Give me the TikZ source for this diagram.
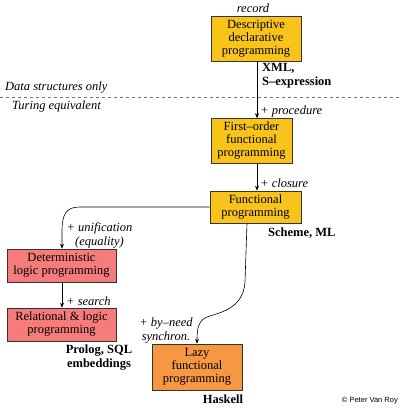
\documentclass[tikz,border=0pt]{standalone}
\usepackage{fontspec}
\setmainfont{Liberation Serif}[Ligatures=TeX]
\newfontfamily\timesfont{Liberation Serif}[Ligatures=TeX]
\newfontfamily\arialfont{Liberation Sans}
\usetikzlibrary{arrows.meta}
\definecolor{boxyellow}{RGB}{248,196,28}
\definecolor{boxred}{RGB}{246,124,124}
\definecolor{boxorange}{RGB}{246,152,66}

\begin{document}
\begin{tikzpicture}[
    x=1pt, y=-1pt,
    every node/.style={font=\timesfont\fontsize{12.5}{13}\selectfont, inner sep=0pt},
    level/.style={draw=black!80, line width=0.6pt, rectangle, align=center},
    note/.style={font=\timesfont\fontsize{12.5}{14}\selectfont\itshape, align=center},
    lang/.style={font=\timesfont\fontsize{12.5}{14}\selectfont\bfseries, align=center},
    link/.style={line width=0.6pt, -{Stealth[length=5pt,width=4pt]}}
]
    \useasboundingbox (0,0) rectangle (400,408);

    \node[level, fill=boxyellow, minimum width=90pt, minimum height=45pt] (desc) at (256,38.5) {Descriptive\\declarative\\programming};
    \node[level, fill=boxyellow, minimum width=81pt, minimum height=45pt] (first) at (251.5,141) {First--order\\functional\\programming};
    \node[level, fill=boxyellow, minimum width=91pt, minimum height=32pt] (func) at (255.5,207) {Functional\\programming};
    \node[level, fill=boxred, minimum width=109pt, minimum height=33pt] (detlog) at (61.5,265.5) {Deterministic\\logic programming};
    \node[level, fill=boxred, minimum width=109pt, minimum height=33pt] (rellog) at (61.5,324.5) {Relational \& logic\\programming};
    \node[level, fill=boxorange, minimum width=90pt, minimum height=46pt] (lazy) at (197,367) {Lazy\\functional\\programming};

    \coordinate (split) at (0,97);
    \coordinate (splitend) at (400,97);
    \draw[black!55, dashed, line width=0.5pt] (split) -- (splitend);

    \node[note] (rec) at (253,8) {record};
    \node[note, anchor=west] (datanote) at (5,88) {Data structures only};
    \node[note, anchor=west] (turnote) at (12,106) {Turing equivalent};
    \node[lang, anchor=north west, align=left] (xml) at (262,63) {XML,\\S--expression};
    \node[note, anchor=west] (proc) at (260,111) {+ procedure};
    \node[note, anchor=west] (clos) at (260,183) {+ closure};
    \node[lang, anchor=west] (scheme) at (268,233) {Scheme, ML};
    \node[note] (unif) at (99.5,235) {+ unification\\(equality)};
    \node[note, anchor=west] (search) at (66,301) {+ search};
    \node[lang] (prolog) at (99,357.5) {Prolog, SQL\\embeddings};
    \node[note] (byneed) at (166,330.5) {+ by--need\\synchron.};
    \node[lang] (haskell) at (223,399) {Haskell};
    \node[font=\arialfont\fontsize{7.5}{8}\selectfont, anchor=east] (copy) at (398,401) {© Peter Van Roy};

    \draw[link] (desc.south -| 257,0) -- (first.north -| 257,0);
    \draw[link] (first.south -| 257,0) -- (func.north -| 257,0);
    \draw[link] (func.west) -- (80,207) .. controls (66,207) and (62,214) .. (62,232) -- (detlog.north -| 62,0);
    \draw[link] (detlog.south -| 62,0) -- (rellog.north -| 62,0);
    \draw[link] (func.south -| 247,0) -- (245,282) .. controls (243,312) and (214,313) .. (205,318) .. controls (198,322) and (197,330) .. (lazy.north);
\end{tikzpicture}
\end{document}
